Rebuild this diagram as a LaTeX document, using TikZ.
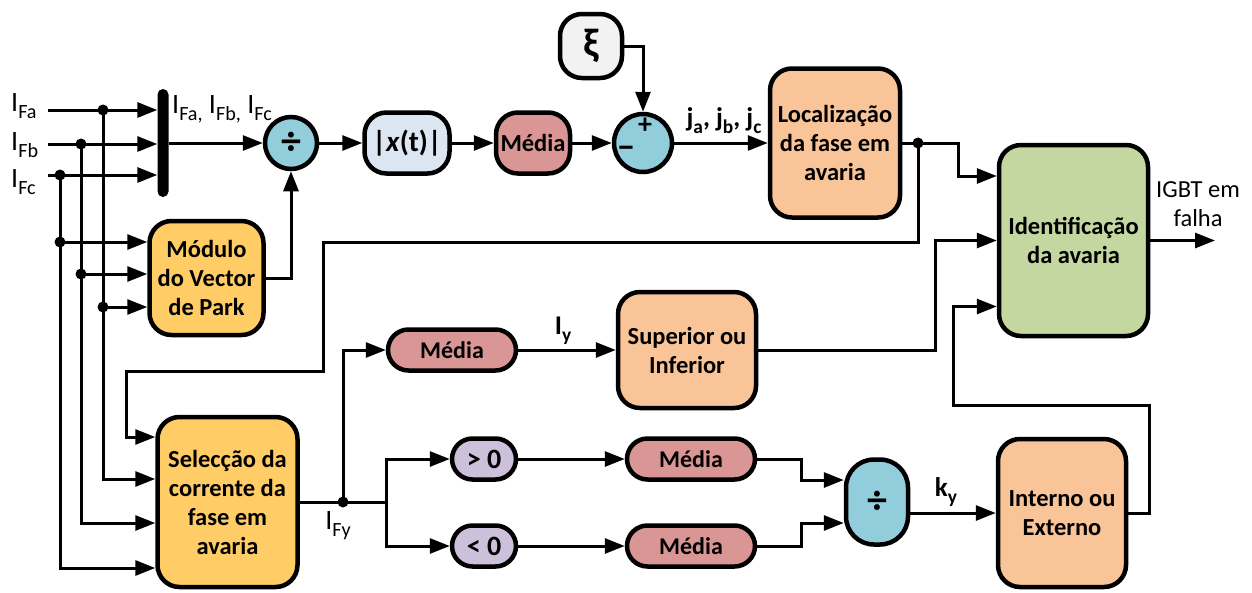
\documentclass[tikz,border=0pt]{standalone}
\usepackage{fontspec}
\setmainfont{Carlito}
\usetikzlibrary{arrows.meta,shapes.misc,calc}
\newcommand\lowsub[1]{\raisebox{-0.28em}{\scalebox{0.72}{#1}}}
\definecolor{cyellow}{RGB}{255,204,102}
\definecolor{cpeach}{RGB}{248,196,152}
\definecolor{cgreen}{RGB}{196,215,160}
\definecolor{cred}{RGB}{218,150,148}
\definecolor{cblue}{RGB}{146,205,220}
\definecolor{csteel}{RGB}{220,230,242}
\definecolor{clilac}{RGB}{204,192,218}
\definecolor{cgrey}{RGB}{242,242,242}
\tikzset{
  ln/.style={line width=3pt},
  arr/.style={ln,-{Triangle[length=20pt,width=15pt]}},
  bx/.style={draw,line width=4.5pt,rounded corners=22pt,align=center,inner sep=0pt,
    font=\fontsize{24.5}{29}\selectfont\bfseries},
  pill/.style={draw,line width=4.5pt,rounded rectangle,align=center,inner sep=0pt,
    minimum height=41pt,font=\fontsize{24}{29}\selectfont\bfseries},
  circ/.style={draw,circle,line width=4.5pt,fill=cblue,inner sep=0pt},
  lbl/.style={font=\fontsize{28}{31}\selectfont,inner sep=0pt},
  blbl/.style={font=\fontsize{27}{30}\selectfont\bfseries,inner sep=0pt},
  dotf/.style={fill=black}
}
\begin{document}
\begin{tikzpicture}[x=1pt,y=-1pt]
\useasboundingbox (0,0) rectangle (1252,592);

% ---- blocks ----
\node[fill=black,rounded corners=5.5pt,minimum width=11pt,minimum height=108pt,inner sep=0pt] (bar) at (163,143) {};
\node[circ,minimum size=52pt,font=\fontsize{40}{40}\selectfont\bfseries] (div1) at (291,143) {÷};
\node[bx,fill=csteel,minimum width=85pt,minimum height=61pt,font=\fontsize{29}{30}\selectfont\bfseries] (absx) at (407,143) {|\textit{x}(t)|};
\node[bx,fill=cred,minimum width=74pt,minimum height=61pt] (med0) at (533,143) {Média};
\node[circ,minimum size=58pt] (sum) at (643,143) {};
\node[font=\fontsize{28}{28}\selectfont\bfseries,inner sep=0pt] (plus) at (645,126) {+};
\node[font=\fontsize{34}{34}\selectfont\bfseries,inner sep=0pt] (minus) at (626,152) {−};
\node[bx,fill=cgrey,minimum width=62pt,minimum height=64pt,font=\fontsize{40}{40}\selectfont\bfseries] (xi) at (591,46) {ξ};
\node[bx,fill=cpeach,minimum width=130pt,minimum height=149pt] (loc) at (835,143) {Localização\\da fase em\\avaria};
\node[bx,fill=cgreen,minimum width=149pt,minimum height=191pt] (ident) at (1073.5,240.5) {Identificação\\da avaria};
\node[bx,fill=cyellow,minimum width=114pt,minimum height=114pt] (park) at (206.5,278) {Módulo\\do Vector\\de Park};
\node[bx,fill=cyellow,minimum width=140pt,minimum height=170pt] (sel) at (227.5,502) {Selecção da\\corrente da\\fase em\\avaria};
\node[pill,fill=cred,minimum width=128pt] (med1) at (452,350) {Média};
\node[bx,fill=cpeach,minimum width=138pt,minimum height=116pt] (sup) at (687,350) {Superior ou\\Inferior};
\node[pill,fill=clilac,minimum width=64pt,font=\fontsize{28}{30}\selectfont\bfseries] (gt) at (484,459) {> 0};
\node[pill,fill=clilac,minimum width=64pt,font=\fontsize{28}{30}\selectfont\bfseries] (lt) at (484,546) {< 0};
\node[pill,fill=cred,minimum width=128pt] (med2) at (691,459) {Média};
\node[pill,fill=cred,minimum width=128pt] (med3) at (691,546) {Média};
\node[bx,fill=cblue,rounded corners=28pt,minimum width=62pt,minimum height=85pt,font=\fontsize{40}{40}\selectfont\bfseries] (div2) at (877,502) {÷};
\node[bx,fill=cpeach,minimum width=128pt,minimum height=148pt] (int) at (1062,513) {Interno ou\\Externo};

% ---- free ends and junctions ----
\coordinate (inFa) at (48,110);
\coordinate (inFb) at (48,144);
\coordinate (inFc) at (48,175);
\coordinate (jFa) at (103,110);
\coordinate (jFb) at (81,144);
\coordinate (jFc) at (60,175);
\coordinate (pFc) at (60,242);
\coordinate (pFb) at (81,274);
\coordinate (pFa) at (103,307);
\coordinate (locdot) at (918,143);
\coordinate (fdot) at (343,502);
\coordinate (split) at (386,502);
\coordinate (out) at (1215,240.5);

% ---- labels ----
\node[lbl,anchor=base west] (lFa) at (11,111) {I\lowsub{Fa}};
\node[lbl,anchor=base west] (lFb) at (11,150) {I\lowsub{Fb}};
\node[lbl,anchor=base west] (lFc) at (11,187) {I\lowsub{Fc}};
\node[lbl,anchor=base west] (lbus) at (172,113) {I\lowsub{Fa,} I\lowsub{Fb,} I\lowsub{Fc}};
\node[blbl,anchor=base] (lj) at (724,126) {j\lowsub{a}, j\lowsub{b}, j\lowsub{c}};
\node[lbl,anchor=base] (lFy) at (338,529) {I\lowsub{Fy}};
\node[blbl,anchor=base] (ly) at (563,334) {I\lowsub{y}};
\node[blbl,anchor=base] (lk) at (946,496) {k\lowsub{y}};
\node[font=\fontsize{24.5}{29}\selectfont,align=center,inner sep=0pt] (lout) at (1198,204) {IGBT em\\falha};

% ---- connectors ----
\draw[arr] (inFa) -- (inFa -| bar.west);
\draw[arr] (inFb) -- (inFb -| bar.west);
\draw[arr] (inFc) -- (inFc -| bar.west);
\draw[ln] (jFa) -- (pFa);
\draw[ln] (jFb) -- (pFb);
\draw[ln] (jFc) -- (pFc);
\draw[arr] (pFa) |- ($(sel.west)+(0,-23)$);
\draw[arr] (pFb) |- ($(sel.west)+(0,21)$);
\draw[arr] (pFc) |- ($(sel.west)+(0,66)$);
\draw[arr] (pFc) -- (pFc -| park.west);
\draw[arr] (pFb) -- (pFb -| park.west);
\draw[arr] (pFa) -- (pFa -| park.west);
\draw[arr] (bar.east) -- (div1.west);
\draw[arr] (park.east) -| (div1.south);
\draw[arr] (div1.east) -- (absx.west);
\draw[arr] (absx.east) -- (med0.west);
\draw[arr] (med0.east) -- (sum.west);
\draw[arr] (xi.east) -| (sum.north);
\draw[arr] (sum.east) -- (loc.west);
\draw[arr] (loc.east) -- (locdot) -- ++(40,0) |- ($(ident.west)+(0,-64.5)$);
\draw[arr] (locdot) |- (323,242) |- (126,371) |- ($(sel.west)+(0,-65)$);
\draw[ln] (sel.east) -- (split);
\draw[arr] (fdot) |- (med1.west);
\draw[arr] (split) |- (gt.west);
\draw[arr] (split) |- (lt.west);
\draw[arr] (med1.east) -- (sup.west);
\draw[arr] (gt.east) -- (med2.west);
\draw[arr] (lt.east) -- (med3.west);
\draw[arr] (med2.east) -- ++(44,0) |- ($(div2.west)+(0,-22)$);
\draw[arr] (med3.east) -- ++(44,0) |- ($(div2.west)+(0,21)$);
\draw[arr] (div2.east |- int.west) -- (int.west);
\draw[arr] (sup.east) -- (935,350) |- (ident.west);
\draw[arr] (int.east) -- ++(21,0) |- (953,405) |- ($(ident.west)+(0,66)$);
\draw[arr] (ident.east) -- (out);

% ---- junction dots ----
\foreach \p in {jFa,jFb,jFc,pFa,pFb,pFc,locdot,fdot}
  \fill[dotf] (\p) circle (5.5pt);
\end{tikzpicture}
\end{document}
